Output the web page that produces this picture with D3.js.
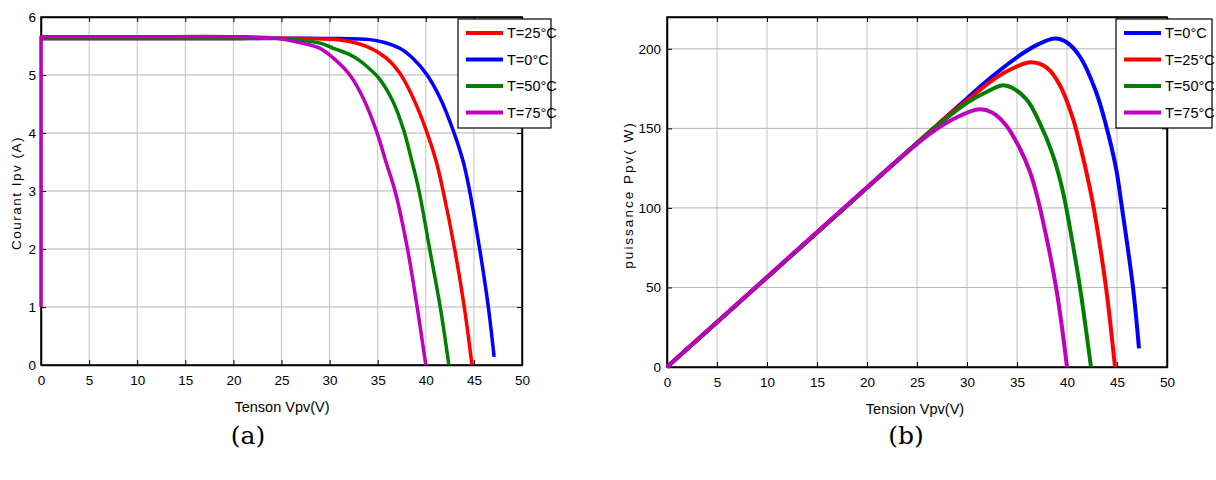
<!DOCTYPE html>
<html>
<head>
<meta charset="utf-8">
<script src="https://cdn.jsdelivr.net/npm/d3@7"></script>
<style>
  body { margin: 0; background: #fff; }
  svg { display: block; }
  .tick text { font-family: "Liberation Sans Narrow", "Arial Narrow", "Liberation Sans", sans-serif; font-size: 13.5px; fill: #000; }
</style>
</head>
<body>
<div id="wrapper"></div>
<script>
// ---- data ----
const xTicks = [0, 5, 10, 15, 20, 25, 30, 35, 40, 45, 50]
const yTicksI = [0, 1, 2, 3, 4, 5, 6]
const yTicksP = [0, 50, 100, 150, 200]

// I-V curves: voltage (V) / current (A)
const ivBlueV = [0, 10, 20, 30, 34.2, 35.5, 37.3, 38.7, 40.1, 41.5, 42.9, 43.9, 44.5, 45.6, 46.5, 47.1]
const ivBlueI = [5.63, 5.63, 5.63, 5.63, 5.61, 5.57, 5.46, 5.28, 5.01, 4.6, 4.02, 3.5, 3.05, 2.0, 1.0, 0.14]
const ivRedV = [0, 10, 20, 28, 31.3, 33.9, 35.9, 37.3, 38.7, 40.1, 41.1, 41.8, 43.0, 44.0, 44.8]
const ivRedI = [5.63, 5.63, 5.63, 5.63, 5.6, 5.49, 5.29, 5.03, 4.6, 4.02, 3.5, 3.0, 2.0, 1.0, 0]
const ivGreenV = [0, 10, 20, 25, 29.0, 30.4, 32, 33.2, 34.2, 35.1, 36.6, 37.7, 38.5, 39.3, 40.4, 41.5, 42.4]
const ivGreenI = [5.63, 5.63, 5.63, 5.63, 5.55, 5.46, 5.36, 5.24, 5.1, 4.95, 4.54, 4.05, 3.55, 3.0, 2.0, 1.0, 0]
// magenta starts with a vertical jump at V = 0
const ivMagV = [0, 0, 10, 20, 24, 26.9, 29.0, 30.4, 32.1, 33.5, 34.9, 35.9, 36.85, 38.1, 39.1, 40.0]
const ivMagI = [1.0, 5.66, 5.66, 5.66, 5.64, 5.56, 5.46, 5.29, 5.0, 4.6, 4.02, 3.48, 2.97, 2.0, 1.0, 0]

// P-V curves: voltage (V) / power (W)
const pvBlueV = [0, 10, 20, 25, 28, 30, 32.6, 35.3, 37, 38.8, 40, 41.3, 42.9, 43.9, 44.9, 45.5, 46.6, 47.2]
const pvBlueP = [0, 56.3, 112.6, 140.8, 157.6, 168.8, 183, 196, 202.5, 206.5, 204, 195, 173, 152, 125, 100, 50, 11.7]
const pvRedV = [0, 10, 20, 25, 28, 30, 32.6, 34.5, 36.4, 38, 39.3, 40.6, 41.4, 42.3, 42.7, 43.9, 44.8]
const pvRedP = [0, 56.3, 112.6, 140.8, 157.5, 167.5, 180.5, 187.5, 191.5, 188, 177, 156, 137, 112, 99, 50, 0]
const pvGreenV = [0, 10, 20, 25, 27, 30, 32, 33.8, 35.9, 37.3, 38.6, 39.6, 40.5, 41.3, 42.4]
const pvGreenP = [0, 56.3, 112.6, 140.8, 151.5, 166, 173, 177, 168.6, 153, 133, 110, 80, 50, 0]
const pvMagV = [0, 10, 20, 23.3, 26.6, 29, 31.1, 32.5, 33.9, 35.3, 36.3, 36.9, 37.3, 38.9, 40.0]
const pvMagP = [0, 56.6, 113, 131.3, 148, 157, 161.9, 160, 152, 137.2, 122.6, 110, 100, 50.4, 0]

const colors = { blue: '#0000ff', red: '#ff0000', green: '#008000', mag: '#bf00bf' }

const zip = (xs, ys) => xs.map((x, i) => ({ x, y: ys[i] }))

const svg = d3.select('#wrapper')
  .append('svg')
    .attr('width', 1216)
    .attr('height', 480)

function drawPanel(cfg) {
  const { left, right, top, bottom } = cfg.box
  const xScale = d3.scaleLinear().domain([0, 50]).range([left, right])
  const yScale = d3.scaleLinear().domain(cfg.yDomain).range([bottom, top])

  const g = svg.append('g')

  // grid
  g.append('g').selectAll('line')
    .data(xTicks.slice(1, -1))
    .join('line')
      .attr('x1', d => xScale(d)).attr('x2', d => xScale(d))
      .attr('y1', top).attr('y2', bottom)
      .attr('stroke', '#c4c4c4').attr('stroke-width', 1)
  g.append('g').selectAll('line')
    .data(cfg.yTicks.filter(d => d > cfg.yDomain[0] && d < cfg.yDomain[1]))
    .join('line')
      .attr('x1', left).attr('x2', right)
      .attr('y1', d => yScale(d)).attr('y2', d => yScale(d))
      .attr('stroke', '#b4b4b4').attr('stroke-width', 1)

  // axes with inner ticks on all four sides
  g.append('g')
      .attr('transform', `translate(0,${bottom})`)
      .call(d3.axisBottom(xScale).tickValues(xTicks).tickSizeInner(-5).tickSizeOuter(0).tickPadding(10).tickFormat(d3.format('d')))
  g.append('g')
      .attr('transform', `translate(${left},0)`)
      .call(d3.axisLeft(yScale).tickValues(cfg.yTicks).tickSizeInner(-5).tickSizeOuter(0).tickPadding(cfg.yPad).tickFormat(d3.format('d')))
  g.append('g')
      .attr('transform', `translate(0,${top})`)
      .call(d3.axisTop(xScale).tickValues(xTicks).tickSizeInner(-5).tickSizeOuter(0).tickFormat(''))
  g.append('g')
      .attr('transform', `translate(${right},0)`)
      .call(d3.axisRight(yScale).tickValues(cfg.yTicks).tickSizeInner(-5).tickSizeOuter(0).tickFormat(''))
  g.selectAll('.domain').attr('stroke', '#000').attr('stroke-width', 1.5)
  g.selectAll('.tick line').attr('stroke', '#000')

  g.append('rect')
      .attr('x', left).attr('y', top)
      .attr('width', right - left).attr('height', bottom - top)
      .attr('fill', 'none').attr('stroke', '#000').attr('stroke-width', 1.5)

  // curves (a leading vertical jump is drawn as a straight segment)
  const lineGenerator = d3.line()
      .x(d => xScale(d.x))
      .y(d => yScale(d.y))
      .curve(d3.curveCatmullRom.alpha(0.5))

  const pathFor = pts => {
    if (pts.length > 2 && pts[0].x === pts[1].x) {
      const p0 = pts[0]
      return `M${xScale(p0.x)},${yScale(p0.y)}L` + lineGenerator(pts.slice(1)).slice(1)
    }
    return lineGenerator(pts)
  }

  g.append('g').selectAll('path')
    .data(cfg.series)
    .join('path')
      .attr('d', d => pathFor(d.points))
      .attr('fill', 'none')
      .attr('stroke', d => d.color)
      .attr('stroke-width', cfg.lineWidth)
      .attr('stroke-linejoin', 'round')

  // axis titles
  g.append('text')
      .attr('x', cfg.xLabelX).attr('y', bottom + 47)
      .attr('text-anchor', 'middle')
      .style('font-family', '"Liberation Sans Narrow", "Arial Narrow", sans-serif')
      .style('font-size', '14.5px')
      .text(cfg.xLabel)
  g.append('text')
      .attr('transform', `translate(${cfg.yLabelX},${cfg.yLabelY}) rotate(-90)`)
      .attr('text-anchor', 'middle')
      .style('font-family', '"Liberation Sans", Arial, sans-serif')
      .style('font-size', '13.5px')
      .style('letter-spacing', cfg.yLabelSpacing)
      .text(cfg.yLabel)

  // legend
  const lg = cfg.legend
  const legend = g.append('g')
  legend.append('rect')
      .attr('x', lg.x).attr('y', lg.y)
      .attr('width', lg.w).attr('height', lg.h)
      .attr('fill', '#fff').attr('stroke', '#000').attr('stroke-width', 1.2)
  const items = legend.selectAll('g')
    .data(lg.order)
    .join('g')
      .attr('transform', (d, i) => `translate(${lg.x + 8},${lg.y + 14 + i * 26.5})`)
  items.append('line')
      .attr('x1', 0).attr('x2', 37)
      .attr('stroke', d => d.color).attr('stroke-width', 4)
  items.append('text')
      .attr('x', 41).attr('y', 5)
      .style('font-family', '"Liberation Sans Narrow", "Arial Narrow", sans-serif')
      .style('font-size', '14.5px')
      .text(d => d.label)

  // caption
  svg.append('text')
      .attr('x', cfg.captionX).attr('y', 444)
      .attr('text-anchor', 'middle')
      .style('font-family', '"DejaVu Serif", "Liberation Serif", serif')
      .style('font-size', '25px')
      .text(cfg.caption)
}

const sBlue = { label: 'T=0°C', color: colors.blue }
const sRed = { label: 'T=25°C', color: colors.red }
const sGreen = { label: 'T=50°C', color: colors.green }
const sMag = { label: 'T=75°C', color: colors.mag }

drawPanel({
  box: { left: 41, right: 522, top: 17, bottom: 365 },
  yDomain: [0, 6],
  yTicks: yTicksI,
  yPad: 5,
  lineWidth: 3.5,
  xLabel: 'Tenson Vpv(V)',
  xLabelX: 282,
  yLabel: 'Courant Ipv (A)',
  yLabelX: 21,
  yLabelY: 193,
  yLabelSpacing: '1.5px',
  series: [
    { ...sBlue, points: zip(ivBlueV, ivBlueI) },
    { ...sRed, points: zip(ivRedV, ivRedI) },
    { ...sGreen, points: zip(ivGreenV, ivGreenI) },
    { ...sMag, points: zip(ivMagV, ivMagI) },
  ],
  legend: { x: 458, y: 19, w: 93, h: 109, order: [sRed, sBlue, sGreen, sMag] },
  caption: '(a)',
  captionX: 248,
})

drawPanel({
  box: { left: 667, right: 1167, top: 17, bottom: 367 },
  yDomain: [0, 220],
  yTicks: yTicksP,
  yPad: 6,
  lineWidth: 4,
  xLabel: 'Tension Vpv(V)',
  xLabelX: 915,
  yLabel: 'puissance Ppv( W)',
  yLabelX: 633,
  yLabelY: 195,
  yLabelSpacing: '2px',
  series: [
    { ...sBlue, points: zip(pvBlueV, pvBlueP) },
    { ...sRed, points: zip(pvRedV, pvRedP) },
    { ...sGreen, points: zip(pvGreenV, pvGreenP) },
    { ...sMag, points: zip(pvMagV, pvMagP) },
  ],
  legend: { x: 1116, y: 19, w: 96, h: 109, order: [sBlue, sRed, sGreen, sMag] },
  caption: '(b)',
  captionX: 906,
})
</script>
</body>
</html>
